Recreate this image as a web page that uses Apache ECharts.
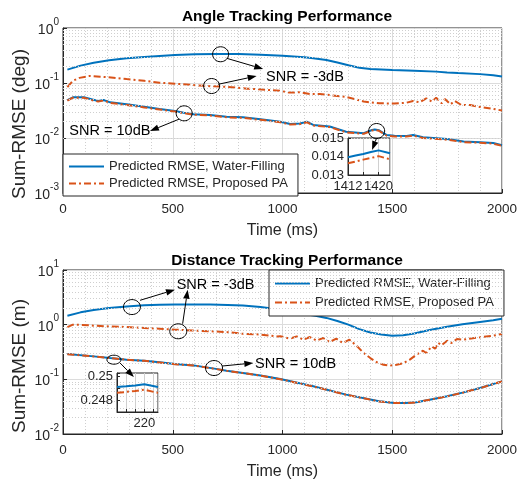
<!DOCTYPE html>
<html>
<head>
<meta charset="utf-8">
<script src="https://cdn.jsdelivr.net/npm/echarts@6/dist/echarts.min.js"></script>
<style>
  html, body { margin: 0; padding: 0; background: #fff; }
  #main { width: 526px; height: 482px; }
</style>
</head>
<body>
<div id="main"></div>
<script>
// ---------- data (time in ms, value = Sum-RMSE) ----------
const nameWF = 'Predicted RMSE, Water-Filling';
const namePA = 'Predicted RMSE, Proposed PA';

// angle, SNR = -3dB
const angleWFm3 = [[20,0.175],[80,0.207],[140,0.234],[210,0.258],[290,0.281],[370,0.297],[440,0.31],[510,0.322],[600,0.332],[700,0.336],[800,0.335],[900,0.327],[1000,0.314],[1100,0.295],[1140,0.283],[1200,0.262],[1250,0.235],[1300,0.21],[1350,0.19],[1400,0.18],[1450,0.176],[1500,0.172],[1600,0.167],[1700,0.161],[1750,0.156],[1800,0.152],[1900,0.145],[1960,0.138],[2000,0.131]];
const anglePAm3 = [[20,0.084],[45,0.11],[75,0.124],[120,0.134],[170,0.13],[230,0.125],[290,0.118],[370,0.11],[440,0.101],[510,0.097],[590,0.092],[680,0.087],[750,0.085],[840,0.079],[930,0.075],[990,0.072],[1030,0.067],[1080,0.068],[1125,0.063],[1170,0.063],[1220,0.06],[1290,0.056],[1330,0.051],[1370,0.046],[1440,0.0427],[1510,0.0425],[1565,0.0438],[1595,0.047],[1625,0.0445],[1655,0.0526],[1680,0.0458],[1700,0.054],[1725,0.0427],[1740,0.0512],[1765,0.0409],[1785,0.0471],[1815,0.0398],[1855,0.0398],[1900,0.0366],[1960,0.0338],[2000,0.0316]];
// angle, SNR = 10dB
const angleWF10 = [[20,0.049],[45,0.055],[95,0.055],[130,0.0505],[160,0.047],[185,0.049],[215,0.0445],[290,0.041],[370,0.037],[440,0.0337],[510,0.031],[550,0.0289],[595,0.027],[670,0.0263],[745,0.0244],[820,0.0238],[900,0.0219],[990,0.0198],[1035,0.018],[1080,0.0183],[1110,0.0198],[1140,0.0173],[1215,0.0162],[1290,0.013],[1370,0.0122],[1408,0.014],[1420,0.0143],[1440,0.0138],[1475,0.0113],[1510,0.011],[1565,0.0109],[1595,0.0113],[1640,0.0103],[1750,0.0096],[1825,0.0086],[1900,0.0084],[1960,0.0081],[2000,0.0074]];
const anglePA10 = [[20,0.048],[45,0.054],[95,0.054],[130,0.049],[160,0.046],[185,0.048],[215,0.0435],[290,0.04],[370,0.036],[440,0.033],[510,0.0302],[550,0.0283],[595,0.0265],[670,0.0257],[745,0.0238],[820,0.0232],[900,0.0214],[990,0.0193],[1035,0.0176],[1080,0.0179],[1110,0.0194],[1140,0.0169],[1215,0.0158],[1290,0.0127],[1370,0.0119],[1408,0.0137],[1420,0.014],[1440,0.0135],[1475,0.011],[1510,0.0107],[1565,0.0106],[1595,0.011],[1640,0.01],[1750,0.0093],[1825,0.0084],[1900,0.0082],[1960,0.0079],[2000,0.0072]];
// angle inset (zoom around 1416 ms)
const angleInsetT = [1412, 1414, 1416, 1418, 1420, 1423];
const angleInsetWF = [0.01396, 0.01405, 0.01414, 0.01424, 0.01433, 0.01418];
const angleInsetPA = [0.01363, 0.01373, 0.01383, 0.01392, 0.01402, 0.01385];

// distance, SNR = -3dB
const distWFm3 = [[20,1.46],[80,1.68],[140,1.85],[210,2.02],[290,2.16],[370,2.26],[440,2.32],[510,2.35],[600,2.35],[670,2.33],[750,2.29],[820,2.24],[900,2.1],[960,1.96],[1040,1.72],[1100,1.56],[1150,1.45],[1200,1.33],[1250,1.17],[1300,1.0],[1350,0.83],[1400,0.72],[1450,0.66],[1500,0.63],[1550,0.64],[1600,0.69],[1670,0.8],[1750,0.92],[1820,1.02],[1900,1.12],[1960,1.2],[2000,1.28]];
const distPAm3 = [[20,0.9],[45,1.0],[80,0.99],[140,0.96],[210,0.93],[290,0.906],[370,0.87],[440,0.845],[510,0.81],[590,0.78],[670,0.76],[750,0.73],[820,0.68],[900,0.66],[970,0.61],[990,0.612],[1035,0.555],[1065,0.612],[1095,0.532],[1125,0.594],[1155,0.509],[1185,0.57],[1215,0.482],[1245,0.555],[1275,0.462],[1305,0.532],[1340,0.402],[1370,0.303],[1400,0.245],[1430,0.205],[1460,0.185],[1490,0.178],[1520,0.185],[1550,0.198],[1580,0.229],[1610,0.282],[1640,0.334],[1655,0.303],[1680,0.402],[1695,0.364],[1710,0.462],[1725,0.42],[1750,0.509],[1770,0.462],[1795,0.547],[1825,0.532],[1860,0.56],[1900,0.586],[1960,0.63],[2000,0.675]];
// distance, SNR = 10dB
const distWF10 = [[20,0.29],[140,0.263],[215,0.245],[290,0.229],[370,0.219],[440,0.205],[510,0.19],[595,0.18],[690,0.157],[745,0.144],[820,0.131],[900,0.118],[990,0.101],[1140,0.0745],[1290,0.0525],[1440,0.0396],[1510,0.037],[1560,0.0368],[1610,0.038],[1670,0.0425],[1750,0.0489],[1825,0.0578],[1900,0.0693],[2000,0.0918]];
const distPA10 = [[20,0.289],[140,0.262],[215,0.244],[290,0.228],[370,0.218],[440,0.204],[510,0.189],[595,0.179],[690,0.156],[745,0.143],[820,0.13],[900,0.117],[990,0.1005],[1140,0.0742],[1290,0.0523],[1440,0.0395],[1510,0.0369],[1560,0.0367],[1610,0.0379],[1670,0.0424],[1750,0.0487],[1825,0.0576],[1900,0.069],[2000,0.0915]];
// distance inset (zoom around 220 ms)
const distInsetT = [208, 212, 216, 220, 226];
const distInsetWF = [0.24912, 0.24918, 0.24925, 0.24935, 0.24912];
const distInsetPA = [0.24862, 0.2487, 0.24878, 0.24888, 0.24862];

// annotations in data coordinates: circles, arrows [from, to], texts
const angleCircles = [[718,0.333],[677,0.0881],[552,0.0281],[1429,0.0134]];
const angleArrows = [[[746,0.281],[912,0.180]],[[707,0.0947],[882,0.134]],[[530,0.0221],[396,0.0134]],[[1428,0.0098],[1408,0.00605]]];
const angleTexts = [['SNR = -3dB',925,0.127],['SNR = 10dB',29,0.0134]];
const distCircles = [[314,2.10],[525,0.757],[688,0.161]];
const distEllipses = [[232,0.2286]];
const distArrows = [[[351,2.79],[510,4.36]],[[545,1.04],[568,4.36]],[[724,0.175],[867,0.199]],[[260,0.199],[323,0.110]]];
const distTexts = [['SNR = -3dB',518,5.38],['SNR = 10dB',875,0.194]];

// ---------- styles ----------
const BLUE = '#0072BD', RED = '#D95319', AX = '#262626';
const FONT = 'Liberation Sans, Arial, Helvetica, sans-serif';
const DASHDOT = [7, 3, 2, 3];

function zip(t, v) { return t.map((x, i) => [x, v[i]]); }
function minorLogs(lo, hi) {
  const out = [];
  for (let d = lo; d < hi; d++) for (let m = 2; m <= 9; m++) out.push(m * Math.pow(10, d));
  return out;
}

const chart = echarts.init(document.getElementById('main'));

function mainX(gi) {
  return {
    type: 'value', gridIndex: gi, min: 0, max: 2000, interval: 500,
    name: 'Time (ms)', nameLocation: 'middle', nameGap: 30,
    nameTextStyle: { fontSize: 16, color: AX, fontFamily: FONT },
    axisLine: { show: true, onZero: false, lineStyle: { color: AX } },
    axisTick: { inside: true, length: 4, lineStyle: { color: AX } },
    axisLabel: { fontSize: 13.5, color: AX, fontFamily: FONT, margin: 9, formatter: v => String(v) },
    splitLine: { show: true, lineStyle: { color: '#dcdcdc' } },
    minorTick: { show: false, splitNumber: 5 },
    minorSplitLine: { show: true, lineStyle: { color: '#cfcfcf', type: [1, 2] } }
  };
}
function mainY(gi, lo, hi) {
  return {
    type: 'log', logBase: 10, gridIndex: gi, min: lo, max: hi,
    axisLine: { show: true, lineStyle: { color: AX } },
    axisTick: { inside: true, length: 4, lineStyle: { color: AX } },
    axisLabel: {
      margin: 4,
      formatter: v => '{b|10}{e|' + Math.round(Math.log10(v)) + '}',
      rich: {
        b: { fontSize: 14, color: AX, fontFamily: FONT, lineHeight: 18, verticalAlign: 'bottom' },
        e: { fontSize: 10, color: AX, fontFamily: FONT, lineHeight: 10, verticalAlign: 'bottom', padding: [0, 0, 10, 0] }
      }
    },
    splitLine: { show: true, lineStyle: { color: '#dcdcdc' } }
  };
}
function insetX(gi, lo, hi, shown) {
  return {
    type: 'value', gridIndex: gi, min: lo, max: hi, interval: 4, z: 6,
    axisLine: { show: true, onZero: false, lineStyle: { color: AX } },
    axisTick: { inside: true, length: 3, lineStyle: { color: AX } },
    axisLabel: { fontSize: 13, color: AX, fontFamily: FONT, margin: 5,
      showMinLabel: true, showMaxLabel: false,
      formatter: v => shown.indexOf(v) >= 0 ? String(v) : '' },
    splitLine: { show: true, lineStyle: { color: '#d0d0d0' } }
  };
}
function insetY(gi, lo, hi, shown) {
  return {
    type: 'value', gridIndex: gi, min: lo, max: hi, interval: 0.001, z: 6,
    axisLine: { show: true, lineStyle: { color: AX } },
    axisTick: { inside: true, length: 3, lineStyle: { color: AX } },
    axisLabel: { fontSize: 13, color: AX, fontFamily: FONT, margin: 4,
      formatter: v => {
        for (const s of shown) if (Math.abs(v - s) < 1e-7) return String(s);
        return '';
      } },
    splitLine: { show: false }
  };
}
function line(name, data, xi, color, dash, z) {
  return {
    name: name, type: 'line', xAxisIndex: xi, yAxisIndex: xi, data: data,
    symbol: 'none', showSymbol: false, z: z || 2, animation: false,
    lineStyle: { color: color, width: 2, type: dash ? DASHDOT : 'solid' },
    itemStyle: { color: color }
  };
}
function minorGrid(xi, vals) {
  return {
    type: 'line', xAxisIndex: xi, yAxisIndex: xi, data: [], z: 1, silent: true,
    markLine: {
      silent: true, symbol: 'none', animation: false, label: { show: false },
      lineStyle: { color: '#cfcfcf', type: [1, 2], width: 1 },
      data: vals.map(v => ({ yAxis: v }))
    }
  };
}
function legendAt(left, top, gap, padTop) {
  return {
    orient: 'vertical', left: left, top: top, itemWidth: 35, itemHeight: 13,
    itemGap: gap, itemTextGap: 4, padding: [padTop, 10, padTop, 5],
    backgroundColor: '#fff', borderColor: AX, borderWidth: 1, borderRadius: 0,
    textStyle: { fontSize: 13, color: AX, fontFamily: FONT },
    itemStyle: { opacity: 0 },
    selectedMode: false, data: [nameWF, namePA]
  };
}

const option = {
  animation: false,
  backgroundColor: '#fff',
  title: [
    { text: 'Angle Tracking Performance', left: 282, top: 4, textAlign: 'center',
      textStyle: { fontSize: 15.5, fontWeight: 'bold', color: '#000', fontFamily: FONT } },
    { text: 'Distance Tracking Performance', left: 282, top: 248, textAlign: 'center',
      textStyle: { fontSize: 15.5, fontWeight: 'bold', color: '#000', fontFamily: FONT } }
  ],
  legend: [legendAt(63, 154, 4, 6), legendAt(269, 270, 6, 7)],
  grid: [
    { left: 63, top: 28, width: 439, height: 165, show: true, borderColor: AX, borderWidth: 1, backgroundColor: '#fff' },
    { left: 348, top: 138, width: 42, height: 37, show: true, borderColor: AX, borderWidth: 1, backgroundColor: '#fff', z: 5 },
    { left: 63, top: 270, width: 439, height: 164, show: true, borderColor: AX, borderWidth: 1, backgroundColor: '#fff' },
    { left: 117, top: 373, width: 41, height: 39, show: true, borderColor: AX, borderWidth: 1, backgroundColor: '#fff', z: 5 }
  ],
  xAxis: [mainX(0), insetX(1, 1412, 1423, [1412, 1420]), mainX(2), insetX(3, 208, 226, [220])],
  yAxis: [
    mainY(0, 0.001, 1),
    insetY(1, 0.013, 0.015, [0.013, 0.014, 0.015]),
    mainY(2, 0.01, 10),
    insetY(3, 0.247, 0.2503, [0.248, 0.25])
  ],
  series: [
    minorGrid(0, minorLogs(-3, 0)),
    minorGrid(2, minorLogs(-2, 1)),
    line(nameWF, angleWFm3, 0, BLUE, false),
    line(nameWF, angleWF10, 0, BLUE, false),
    line(namePA, anglePAm3, 0, RED, true),
    line(namePA, anglePA10, 0, RED, true),
    line(nameWF, zip(angleInsetT, angleInsetWF), 1, BLUE, false, 7),
    line(namePA, zip(angleInsetT, angleInsetPA), 1, RED, true, 7),
    line(nameWF, distWFm3, 2, BLUE, false),
    line(nameWF, distWF10, 2, BLUE, false),
    line(namePA, distPAm3, 2, RED, true),
    line(namePA, distPA10, 2, RED, true),
    line(nameWF, zip(distInsetT, distInsetWF), 3, BLUE, false, 7),
    line(namePA, zip(distInsetT, distInsetPA), 3, RED, true, 7)
  ]
};
chart.setOption(option);

// ---------- y-axis titles, annotations (circles, arrows, labels) ----------
function px(gi, p) { return chart.convertToPixel({ gridIndex: gi }, p); }
const els = [];
function addYTitle(text, x, y) {
  els.push({ type: 'text', x: x, y: y, rotation: Math.PI / 2, silent: true,
    style: { text: text, fontSize: 19, fontFamily: FONT, fill: AX, align: 'center', verticalAlign: 'middle' } });
}
function addCircle(gi, p, rx, ry) {
  const c = px(gi, p);
  els.push({ type: 'ellipse', z: 20, silent: true,
    shape: { cx: c[0], cy: c[1], rx: rx, ry: ry },
    style: { fill: null, stroke: '#000', lineWidth: 1 } });
}
function addArrow(gi, a, b) {
  const p = px(gi, a), q = px(gi, b);
  const dx = q[0] - p[0], dy = q[1] - p[1], len = Math.hypot(dx, dy);
  const ux = dx / len, uy = dy / len, L = 9, W = 3.2;
  const bx = q[0] - ux * L, by = q[1] - uy * L;
  els.push({ type: 'line', z: 20, silent: true,
    shape: { x1: p[0], y1: p[1], x2: bx, y2: by },
    style: { stroke: '#000', lineWidth: 1 } });
  els.push({ type: 'polygon', z: 20, silent: true,
    shape: { points: [[q[0], q[1]], [bx - uy * W, by + ux * W], [bx + uy * W, by - ux * W]] },
    style: { fill: '#000' } });
}
function addText(gi, t) {
  const c = px(gi, [t[1], t[2]]);
  els.push({ type: 'text', z: 20, silent: true, x: c[0], y: c[1],
    style: { text: t[0], fontSize: 14.5, fontFamily: FONT, fill: '#000',
      textAlign: 'left', textVerticalAlign: 'middle', verticalAlign: 'middle' } });
}
addYTitle('Sum-RMSE (deg)', 20, 124);
addYTitle('Sum-RMSE (m)', 20, 366);
angleCircles.forEach(p => addCircle(0, p, 8, 7.5));
angleArrows.forEach(a => addArrow(0, a[0], a[1]));
angleTexts.forEach(t => addText(0, t));
distCircles.forEach(p => addCircle(2, p, 8.5, 7.5));
distEllipses.forEach(p => addCircle(2, p, 7, 4.5));
distArrows.forEach(a => addArrow(2, a[0], a[1]));
distTexts.forEach(t => addText(2, t));
chart.setOption({ graphic: { elements: els } });
</script>
</body>
</html>
